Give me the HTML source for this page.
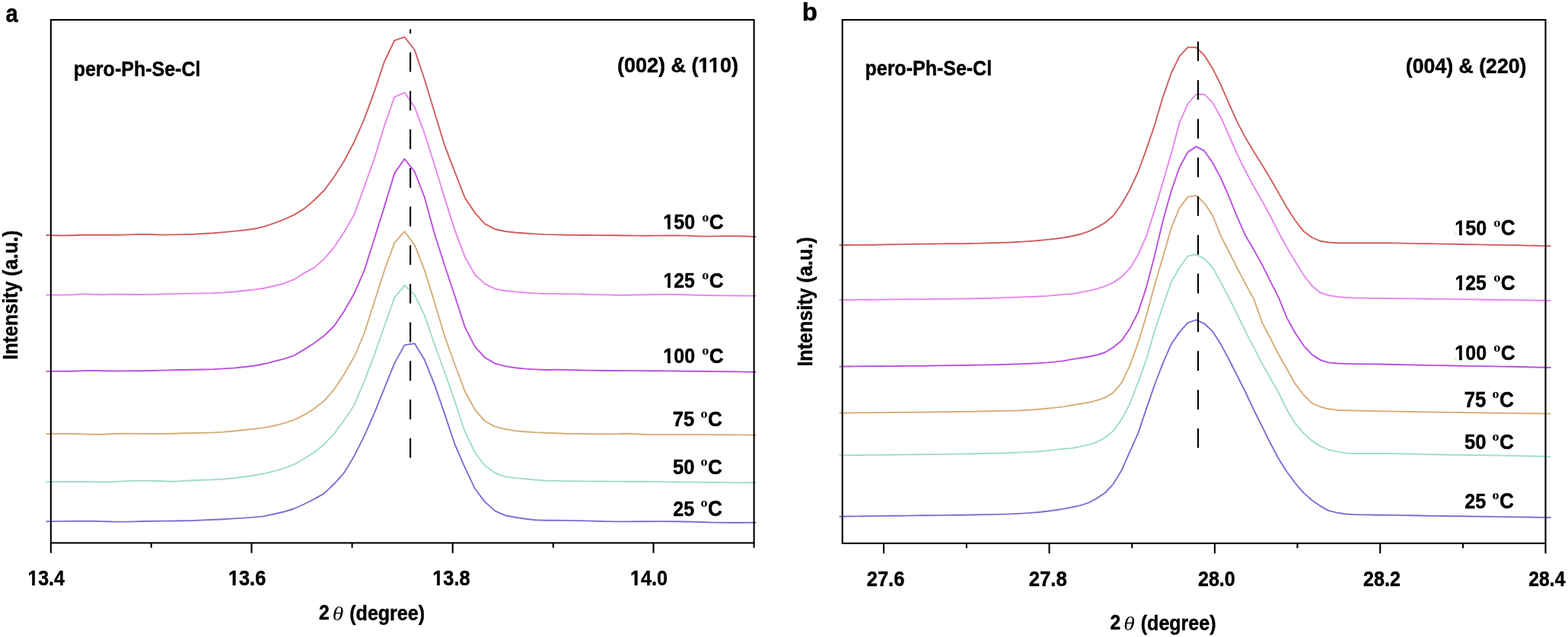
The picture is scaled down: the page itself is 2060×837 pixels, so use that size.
<!DOCTYPE html>
<html><head><meta charset="utf-8"><title>XRD peaks</title>
<style>html,body{margin:0;padding:0;background:#fff;overflow:hidden}svg{display:block}</style></head>
<body>
<svg width="2060" height="837" viewBox="0 0 2060 837">
<rect width="100%" height="100%" fill="#fff"/>
<polyline fill="none" stroke="#d05e5e" stroke-width="1.9" stroke-linejoin="round" points="60.4,309.0 69.2,309.3 82.4,309.5 95.6,309.2 108.8,308.7 122.0,308.7 135.2,308.7 148.4,308.7 161.6,308.6 174.8,308.1 188.0,307.9 201.3,308.2 214.5,308.6 227.7,308.4 240.9,308.1 254.1,307.7 267.3,307.0 280.5,306.2 293.7,305.1 306.9,303.9 320.1,302.5 333.4,300.8 346.6,297.9 359.8,293.4 373.0,288.3 386.2,282.4 399.4,274.4 412.6,263.2 425.8,250.2 439.0,232.2 452.2,211.2 465.5,186.2 478.7,156.1 491.9,120.2 505.1,80.6 518.3,53.1 531.5,48.6 544.7,65.5 557.9,104.8 571.1,148.5 584.3,191.4 597.6,226.1 610.8,260.0 624.0,279.6 637.2,294.4 650.4,301.2 663.6,304.0 676.8,305.5 690.0,306.5 703.2,307.4 716.4,308.1 729.7,308.4 742.9,308.7 756.1,308.9 769.3,309.0 782.5,309.1 795.7,309.2 808.9,309.3 822.1,309.5 835.3,309.6 848.5,309.7 861.8,309.6 875.0,309.5 888.2,309.4 901.4,309.6 914.6,310.2 927.8,310.6 941.0,310.4 954.2,310.1 967.4,310.2 980.6,310.5 993.4,311.1"/>
<polyline fill="none" stroke="#e687ec" stroke-width="1.9" stroke-linejoin="round" points="60.4,387.5 69.2,387.6 82.4,387.6 95.6,387.2 108.8,386.4 122.0,386.7 135.2,387.2 148.4,386.6 161.6,386.7 174.8,387.0 188.0,387.0 201.3,386.9 214.5,386.5 227.7,386.1 240.9,385.9 254.1,385.6 267.3,385.4 280.5,385.1 293.7,384.5 306.9,383.5 320.1,382.0 333.4,380.6 346.6,378.7 359.8,375.8 373.0,372.7 386.2,367.2 399.4,358.9 412.6,351.9 425.8,340.4 439.0,324.8 452.2,304.8 465.5,281.8 478.7,245.1 491.9,208.2 505.1,165.0 518.3,127.3 531.5,121.6 544.7,140.6 557.9,175.7 571.1,217.5 584.3,260.6 597.6,302.7 610.8,337.6 624.0,361.0 637.2,372.9 650.4,379.6 663.6,382.0 676.8,383.4 690.0,384.5 703.2,385.4 716.4,386.0 729.7,386.1 742.9,386.2 756.1,386.4 769.3,386.7 782.5,387.1 795.7,387.4 808.9,387.7 822.1,387.7 835.3,387.5 848.5,387.2 861.8,387.0 875.0,386.9 888.2,387.0 901.4,387.3 914.6,387.7 927.8,388.0 941.0,388.2 954.2,388.4 967.4,388.5 980.6,388.6 993.4,388.7"/>
<polyline fill="none" stroke="#bc4ee0" stroke-width="1.9" stroke-linejoin="round" points="60.4,487.9 69.2,487.9 82.4,487.8 95.6,487.7 108.8,487.1 122.0,486.9 135.2,487.3 148.4,487.5 161.6,487.4 174.8,487.3 188.0,487.2 201.3,487.0 214.5,486.6 227.7,486.3 240.9,486.0 254.1,485.8 267.3,485.5 280.5,485.1 293.7,484.4 306.9,483.6 320.1,482.3 333.4,480.8 346.6,478.3 359.8,474.8 373.0,471.7 386.2,467.3 399.4,459.4 412.6,451.0 425.8,441.2 439.0,428.3 452.2,408.7 465.5,385.3 478.7,355.1 491.9,313.5 505.1,271.1 518.3,227.6 531.5,208.8 544.7,225.5 557.9,259.7 571.1,308.0 584.3,349.3 597.6,389.0 610.8,429.9 624.0,455.6 637.2,470.0 650.4,477.6 663.6,481.1 676.8,483.3 690.0,484.6 703.2,485.4 716.4,486.0 729.7,485.8 742.9,485.9 756.1,486.2 769.3,486.6 782.5,486.8 795.7,487.0 808.9,487.0 822.1,487.1 835.3,487.1 848.5,487.2 861.8,487.3 875.0,487.4 888.2,487.5 901.4,487.7 914.6,487.8 927.8,488.0 941.0,488.1 954.2,488.3 967.4,488.4 980.6,488.6 993.4,488.8"/>
<polyline fill="none" stroke="#d6ad78" stroke-width="1.9" stroke-linejoin="round" points="60.4,570.2 69.2,570.0 82.4,569.9 95.6,570.0 108.8,570.4 122.0,570.7 135.2,570.7 148.4,570.0 161.6,569.8 174.8,569.9 188.0,569.9 201.3,570.0 214.5,570.0 227.7,569.7 240.9,569.3 254.1,569.0 267.3,568.8 280.5,568.4 293.7,567.6 306.9,566.5 320.1,565.0 333.4,563.6 346.6,562.1 359.8,559.5 373.0,556.2 386.2,551.9 399.4,545.3 412.6,537.1 425.8,526.7 439.0,511.8 452.2,491.5 465.5,468.5 478.7,437.5 491.9,396.3 505.1,355.0 518.3,318.9 531.5,304.1 544.7,321.9 557.9,355.4 571.1,398.0 584.3,442.1 597.6,479.3 610.8,514.3 624.0,538.5 637.2,553.5 650.4,560.6 663.6,563.8 676.8,566.1 690.0,567.2 703.2,568.1 716.4,568.7 729.7,569.2 742.9,569.7 756.1,569.9 769.3,570.1 782.5,570.2 795.7,570.3 808.9,570.4 822.1,569.8 835.3,570.2 848.5,571.0 861.8,571.1 875.0,571.1 888.2,571.1 901.4,571.1 914.6,571.1 927.8,571.1 941.0,571.2 954.2,571.3 967.4,571.4 980.6,571.6 993.4,571.8"/>
<polyline fill="none" stroke="#9edccd" stroke-width="1.9" stroke-linejoin="round" points="60.4,633.2 69.2,633.1 82.4,633.0 95.6,633.0 108.8,633.0 122.0,633.1 135.2,633.2 148.4,633.1 161.6,632.4 174.8,631.8 188.0,631.7 201.3,631.7 214.5,632.2 227.7,632.7 240.9,631.9 254.1,631.3 267.3,630.8 280.5,630.3 293.7,629.5 306.9,628.2 320.1,626.5 333.4,624.7 346.6,622.3 359.8,619.1 373.0,615.3 386.2,610.3 399.4,603.0 412.6,594.4 425.8,583.9 439.0,569.9 452.2,552.3 465.5,532.1 478.7,500.5 491.9,466.0 505.1,428.3 518.3,390.9 531.5,375.1 544.7,387.3 557.9,414.6 571.1,453.2 584.3,489.5 597.6,527.3 610.8,567.7 624.0,594.5 637.2,612.1 650.4,621.5 663.6,626.4 676.8,628.1 690.0,629.2 703.2,630.5 716.4,631.5 729.7,631.8 742.9,632.1 756.1,632.2 769.3,632.4 782.5,632.5 795.7,632.5 808.9,632.6 822.1,632.7 835.3,632.7 848.5,632.8 861.8,632.9 875.0,633.1 888.2,633.3 901.4,633.4 914.6,633.6 927.8,633.7 941.0,633.8 954.2,633.9 967.4,634.1 980.6,634.2 993.4,634.3"/>
<polyline fill="none" stroke="#7a70d6" stroke-width="1.9" stroke-linejoin="round" points="60.4,685.3 69.2,685.1 82.4,684.9 95.6,684.7 108.8,684.7 122.0,684.8 135.2,685.1 148.4,685.5 161.6,685.6 174.8,685.4 188.0,685.0 201.3,684.7 214.5,684.6 227.7,684.5 240.9,684.3 254.1,684.0 267.3,683.4 280.5,682.8 293.7,682.2 306.9,681.4 320.1,680.6 333.4,679.6 346.6,678.4 359.8,675.5 373.0,672.5 386.2,668.5 399.4,662.5 412.6,655.8 425.8,648.4 439.0,635.8 452.2,621.1 465.5,598.9 478.7,572.6 491.9,542.6 505.1,509.8 518.3,477.1 531.5,453.4 544.7,451.2 557.9,473.1 571.1,506.1 584.3,544.4 597.6,584.0 610.8,614.3 624.0,642.2 637.2,659.6 650.4,671.4 663.6,677.2 676.8,679.8 690.0,681.7 703.2,683.3 716.4,683.8 729.7,683.8 742.9,683.9 756.1,684.1 769.3,684.4 782.5,684.8 795.7,685.1 808.9,685.4 822.1,685.4 835.3,685.3 848.5,685.2 861.8,685.1 875.0,685.1 888.2,685.2 901.4,685.5 914.6,685.8 927.8,686.2 941.0,686.6 954.2,686.8 967.4,686.8 980.6,686.7 993.4,686.6"/>
<line x1="539.1" y1="38.5" x2="539.1" y2="602.2" stroke="#000" stroke-width="2.1" stroke-dasharray="25.9 24.8" stroke-dashoffset="20.5"/>
<rect x="66.85" y="26.1" width="923.75" height="687.3" fill="none" stroke="#000" stroke-width="2.1"/>
<line x1="66.85" y1="713.4" x2="66.85" y2="726.6999999999999" stroke="#000" stroke-width="2.1"/>
<line x1="330.5" y1="713.4" x2="330.5" y2="726.6999999999999" stroke="#000" stroke-width="2.1"/>
<line x1="594.7" y1="713.4" x2="594.7" y2="726.6999999999999" stroke="#000" stroke-width="2.1"/>
<line x1="858.5" y1="713.4" x2="858.5" y2="726.6999999999999" stroke="#000" stroke-width="2.1"/>
<line x1="198.7" y1="713.4" x2="198.7" y2="719.8" stroke="#000" stroke-width="2.1"/>
<line x1="462.6" y1="713.4" x2="462.6" y2="719.8" stroke="#000" stroke-width="2.1"/>
<line x1="726.8" y1="713.4" x2="726.8" y2="719.8" stroke="#000" stroke-width="2.1"/>
<line x1="990.6" y1="713.4" x2="990.6" y2="719.8" stroke="#000" stroke-width="2.1"/>
<polyline fill="none" stroke="#d05e5e" stroke-width="1.9" stroke-linejoin="round" points="1102.6,322.1 1114.8,322.0 1125.7,321.9 1136.6,321.8 1147.4,321.7 1158.3,321.5 1169.2,321.3 1180.0,321.1 1190.9,320.9 1201.8,320.7 1212.7,320.6 1223.5,320.5 1234.4,320.4 1245.3,320.3 1256.1,320.2 1267.0,320.1 1277.9,319.9 1288.8,319.6 1299.6,319.3 1310.5,319.0 1321.4,318.7 1332.2,318.2 1343.1,317.6 1354.0,316.9 1364.8,316.0 1375.7,314.9 1386.6,313.7 1397.5,312.2 1408.3,310.3 1419.2,307.8 1430.1,304.1 1440.9,298.9 1451.8,292.7 1462.7,283.3 1473.5,268.3 1484.4,249.1 1495.3,225.5 1506.2,195.9 1517.0,164.1 1527.9,127.1 1538.8,96.0 1549.6,73.8 1560.5,62.3 1571.4,62.3 1582.2,72.7 1593.1,89.9 1604.0,111.7 1614.8,136.7 1625.7,160.9 1636.6,181.6 1647.5,199.7 1658.3,216.9 1669.2,235.0 1680.1,254.1 1690.9,273.1 1701.8,290.0 1712.7,303.9 1723.5,312.0 1734.4,316.7 1745.3,318.5 1756.2,319.3 1767.0,319.2 1777.9,319.2 1788.8,319.2 1799.6,319.2 1810.5,319.2 1821.4,319.3 1832.2,319.4 1843.1,319.6 1854.0,319.9 1864.9,320.1 1875.7,320.3 1886.6,320.4 1897.5,320.6 1908.3,320.8 1919.2,321.0 1930.1,321.2 1941.0,321.4 1951.8,321.6 1962.7,321.7 1973.6,321.9 1984.4,322.1 1995.3,322.3 2006.2,322.6 2017.0,322.8 2027.9,323.1 2037.6,323.3"/>
<polyline fill="none" stroke="#e687ec" stroke-width="1.9" stroke-linejoin="round" points="1102.6,394.1 1114.8,394.0 1125.7,393.9 1136.6,393.8 1147.4,393.7 1158.3,393.6 1169.2,393.5 1180.0,393.4 1190.9,393.3 1201.8,393.2 1212.7,393.1 1223.5,393.0 1234.4,392.9 1245.3,392.8 1256.1,392.6 1267.0,392.5 1277.9,392.3 1288.8,392.0 1299.6,391.8 1310.5,391.5 1321.4,391.1 1332.2,390.8 1343.1,390.4 1354.0,390.0 1364.8,389.5 1375.7,388.9 1386.6,387.8 1397.5,386.9 1408.3,386.2 1419.2,384.1 1430.1,382.1 1440.9,379.6 1451.8,376.0 1462.7,371.1 1473.5,363.9 1484.4,352.7 1495.3,334.7 1506.2,309.6 1517.0,275.4 1527.9,239.2 1538.8,201.4 1549.6,161.2 1560.5,136.5 1571.4,124.0 1582.2,123.9 1593.1,134.9 1604.0,154.4 1614.8,178.5 1625.7,203.4 1636.6,225.5 1647.5,245.5 1658.3,264.6 1669.2,284.3 1680.1,306.0 1690.9,325.5 1701.8,343.9 1712.7,361.4 1723.5,375.5 1734.4,384.5 1745.3,388.2 1756.2,389.6 1767.0,391.0 1777.9,391.4 1788.8,391.6 1799.6,391.8 1810.5,391.9 1821.4,392.0 1832.2,392.1 1843.1,392.3 1854.0,392.4 1864.9,392.5 1875.7,392.7 1886.6,392.8 1897.5,392.9 1908.3,393.1 1919.2,393.2 1930.1,393.4 1941.0,393.5 1951.8,393.7 1962.7,393.8 1973.6,394.0 1984.4,394.1 1995.3,394.3 2006.2,394.5 2017.0,394.7 2027.9,394.8 2037.6,395.0"/>
<polyline fill="none" stroke="#bc4ee0" stroke-width="1.9" stroke-linejoin="round" points="1102.6,481.6 1114.8,481.5 1125.7,481.4 1136.6,481.3 1147.4,481.2 1158.3,481.2 1169.2,481.1 1180.0,481.0 1190.9,480.9 1201.8,480.8 1212.7,480.7 1223.5,480.5 1234.4,480.4 1245.3,480.3 1256.1,480.1 1267.0,480.0 1277.9,479.8 1288.8,479.6 1299.6,479.4 1310.5,479.2 1321.4,478.9 1332.2,478.5 1343.1,478.1 1354.0,477.7 1364.8,477.1 1375.7,476.4 1386.6,475.4 1397.5,474.1 1408.3,472.1 1419.2,470.5 1430.1,468.7 1440.9,466.5 1451.8,463.0 1462.7,456.4 1473.5,447.6 1484.4,431.8 1495.3,410.1 1506.2,377.1 1517.0,335.5 1527.9,289.7 1538.8,250.7 1549.6,219.7 1560.5,199.9 1571.4,192.6 1582.2,198.2 1593.1,213.8 1604.0,234.1 1614.8,259.0 1625.7,285.9 1636.6,310.3 1647.5,328.6 1658.3,348.2 1669.2,370.1 1680.1,391.6 1690.9,418.1 1701.8,437.8 1712.7,454.3 1723.5,465.8 1734.4,472.9 1745.3,476.4 1756.2,477.5 1767.0,477.9 1777.9,478.1 1788.8,478.3 1799.6,478.4 1810.5,478.5 1821.4,478.7 1832.2,479.0 1843.1,479.2 1854.0,479.4 1864.9,479.7 1875.7,479.9 1886.6,480.1 1897.5,480.3 1908.3,480.5 1919.2,480.7 1930.1,480.9 1941.0,481.1 1951.8,481.3 1962.7,481.4 1973.6,481.6 1984.4,481.8 1995.3,482.0 2006.2,482.3 2017.0,482.5 2027.9,482.8 2037.6,483.0"/>
<polyline fill="none" stroke="#d6ad78" stroke-width="1.9" stroke-linejoin="round" points="1102.6,542.6 1114.8,542.5 1125.7,542.4 1136.6,542.3 1147.4,542.2 1158.3,542.1 1169.2,542.0 1180.0,541.9 1190.9,541.8 1201.8,541.7 1212.7,541.6 1223.5,541.5 1234.4,541.3 1245.3,541.2 1256.1,541.0 1267.0,540.9 1277.9,540.7 1288.8,540.5 1299.6,540.3 1310.5,540.1 1321.4,539.9 1332.2,539.6 1343.1,539.2 1354.0,538.6 1364.8,537.8 1375.7,536.7 1386.6,535.6 1397.5,534.4 1408.3,532.4 1419.2,530.8 1430.1,528.8 1440.9,526.2 1451.8,522.4 1462.7,515.6 1473.5,503.1 1484.4,480.4 1495.3,450.4 1506.2,414.4 1517.0,374.2 1527.9,337.5 1538.8,299.7 1549.6,273.2 1560.5,258.6 1571.4,257.0 1582.2,266.7 1593.1,283.1 1604.0,310.2 1614.8,331.3 1625.7,352.9 1636.6,373.5 1647.5,393.6 1658.3,424.2 1669.2,444.7 1680.1,466.2 1690.9,485.3 1701.8,504.7 1712.7,519.0 1723.5,529.6 1734.4,534.5 1745.3,537.3 1756.2,538.7 1767.0,539.2 1777.9,539.5 1788.8,539.8 1799.6,540.0 1810.5,540.2 1821.4,540.4 1832.2,540.6 1843.1,540.8 1854.0,541.0 1864.9,541.2 1875.7,541.4 1886.6,541.6 1897.5,541.7 1908.3,541.9 1919.2,542.0 1930.1,542.2 1941.0,542.3 1951.8,542.5 1962.7,542.6 1973.6,542.8 1984.4,542.9 1995.3,543.1 2006.2,543.2 2017.0,543.3 2027.9,543.5 2037.6,543.6"/>
<polyline fill="none" stroke="#9edccd" stroke-width="1.9" stroke-linejoin="round" points="1102.6,598.1 1114.8,598.1 1125.7,598.0 1136.6,597.9 1147.4,597.9 1158.3,597.8 1169.2,597.7 1180.0,597.5 1190.9,597.4 1201.8,597.2 1212.7,597.1 1223.5,597.0 1234.4,596.9 1245.3,596.7 1256.1,596.6 1267.0,596.5 1277.9,596.3 1288.8,596.0 1299.6,595.8 1310.5,595.5 1321.4,595.2 1332.2,594.8 1343.1,594.4 1354.0,593.9 1364.8,593.2 1375.7,592.3 1386.6,590.9 1397.5,589.7 1408.3,589.0 1419.2,586.9 1430.1,584.3 1440.9,580.8 1451.8,575.2 1462.7,566.0 1473.5,551.3 1484.4,530.5 1495.3,502.1 1506.2,472.0 1517.0,434.9 1527.9,401.5 1538.8,370.5 1549.6,351.7 1560.5,336.5 1571.4,334.3 1582.2,339.9 1593.1,351.4 1604.0,371.1 1614.8,391.8 1625.7,413.5 1636.6,436.2 1647.5,457.1 1658.3,478.2 1669.2,497.3 1680.1,516.5 1690.9,538.5 1701.8,556.7 1712.7,569.3 1723.5,579.1 1734.4,586.1 1745.3,591.0 1756.2,593.4 1767.0,595.1 1777.9,596.0 1788.8,596.0 1799.6,596.0 1810.5,596.0 1821.4,596.0 1832.2,596.1 1843.1,596.2 1854.0,596.5 1864.9,596.8 1875.7,597.1 1886.6,597.3 1897.5,597.5 1908.3,597.7 1919.2,597.8 1930.1,598.0 1941.0,598.1 1951.8,598.2 1962.7,598.4 1973.6,598.6 1984.4,598.8 1995.3,599.0 2006.2,599.2 2017.0,599.5 2027.9,599.8 2037.6,600.0"/>
<polyline fill="none" stroke="#7a70d6" stroke-width="1.9" stroke-linejoin="round" points="1102.6,678.7 1114.8,678.5 1125.7,678.4 1136.6,678.2 1147.4,678.1 1158.3,677.9 1169.2,677.8 1180.0,677.7 1190.9,677.6 1201.8,677.4 1212.7,677.3 1223.5,677.2 1234.4,677.1 1245.3,676.9 1256.1,676.8 1267.0,676.7 1277.9,676.5 1288.8,676.3 1299.6,676.1 1310.5,675.9 1321.4,675.6 1332.2,675.1 1343.1,674.6 1354.0,673.9 1364.8,673.0 1375.7,671.7 1386.6,670.3 1397.5,668.6 1408.3,666.5 1419.2,664.1 1430.1,660.7 1440.9,654.9 1451.8,647.5 1462.7,635.8 1473.5,618.1 1484.4,593.3 1495.3,569.1 1506.2,536.6 1517.0,505.5 1527.9,476.8 1538.8,452.2 1549.6,436.4 1560.5,424.2 1571.4,420.4 1582.2,425.2 1593.1,435.4 1604.0,452.6 1614.8,472.8 1625.7,494.3 1636.6,516.0 1647.5,539.2 1658.3,560.7 1669.2,582.8 1680.1,603.2 1690.9,620.2 1701.8,635.1 1712.7,647.6 1723.5,657.3 1734.4,664.8 1745.3,670.9 1756.2,673.6 1767.0,675.3 1777.9,676.1 1788.8,676.4 1799.6,676.5 1810.5,676.7 1821.4,676.8 1832.2,676.9 1843.1,677.1 1854.0,677.3 1864.9,677.5 1875.7,677.7 1886.6,677.9 1897.5,678.0 1908.3,678.2 1919.2,678.3 1930.1,678.5 1941.0,678.6 1951.8,678.8 1962.7,678.9 1973.6,679.1 1984.4,679.2 1995.3,679.4 2006.2,679.5 2017.0,679.7 2027.9,679.9 2037.6,680.0"/>
<line x1="1574.0" y1="54.4" x2="1574.0" y2="588.6" stroke="#000" stroke-width="2.1" stroke-dasharray="25.8 25.07" stroke-dashoffset="0"/>
<rect x="1106.7" y="26.1" width="923.8" height="687.8" fill="none" stroke="#000" stroke-width="2.1"/>
<line x1="1161.0" y1="713.9" x2="1161.0" y2="727.1999999999999" stroke="#000" stroke-width="2.1"/>
<line x1="1378.5" y1="713.9" x2="1378.5" y2="727.1999999999999" stroke="#000" stroke-width="2.1"/>
<line x1="1595.9" y1="713.9" x2="1595.9" y2="727.1999999999999" stroke="#000" stroke-width="2.1"/>
<line x1="1813.2" y1="713.9" x2="1813.2" y2="727.1999999999999" stroke="#000" stroke-width="2.1"/>
<line x1="2030.5" y1="713.9" x2="2030.5" y2="727.1999999999999" stroke="#000" stroke-width="2.1"/>
<line x1="1269.8" y1="713.9" x2="1269.8" y2="720.3" stroke="#000" stroke-width="2.1"/>
<line x1="1487.2" y1="713.9" x2="1487.2" y2="720.3" stroke="#000" stroke-width="2.1"/>
<line x1="1704.5" y1="713.9" x2="1704.5" y2="720.3" stroke="#000" stroke-width="2.1"/>
<line x1="1922.0" y1="713.9" x2="1922.0" y2="720.3" stroke="#000" stroke-width="2.1"/>
<g fill="#000"><text transform="translate(7.39 28.88) scale(0.8801 1)" style="font-family:'Liberation Sans', Arial, sans-serif;font-weight:bold;font-style:normal;font-size:33.02px;stroke:#000;stroke-width:0.45px">a</text>
<text transform="translate(1053.75 27.19) scale(1.0079 1)" style="font-family:'Liberation Sans', Arial, sans-serif;font-weight:bold;font-style:normal;font-size:32.70px;stroke:#000;stroke-width:0.45px">b</text>
<text transform="translate(96.68 99.70) scale(0.8955 1)" style="font-family:'Liberation Sans', Arial, sans-serif;font-weight:bold;font-style:normal;font-size:27.94px;stroke:#000;stroke-width:0.45px">pero-Ph-Se-Cl</text>
<text transform="translate(1136.48 99.30) scale(0.8950 1)" style="font-family:'Liberation Sans', Arial, sans-serif;font-weight:bold;font-style:normal;font-size:27.94px;stroke:#000;stroke-width:0.45px">pero-Ph-Se-Cl</text>
<text transform="translate(810.95 94.51) scale(0.9928 1)" style="font-family:'Liberation Sans', Arial, sans-serif;font-weight:bold;font-style:normal;font-size:27.21px;stroke:#000;stroke-width:0.45px">(002) &amp; (110)</text>
<text transform="translate(1846.87 96.41) scale(0.9802 1)" style="font-family:'Liberation Sans', Arial, sans-serif;font-weight:bold;font-style:normal;font-size:27.21px;stroke:#000;stroke-width:0.45px">(004) &amp; (220)</text>
<text transform="translate(36.38 769.35) scale(0.9231 1)" style="font-family:'Liberation Sans', Arial, sans-serif;font-weight:bold;font-style:normal;font-size:27.00px;stroke:#000;stroke-width:0.45px">13.4</text>
<text transform="translate(299.96 769.35) scale(0.9378 1)" style="font-family:'Liberation Sans', Arial, sans-serif;font-weight:bold;font-style:normal;font-size:27.00px;stroke:#000;stroke-width:0.45px">13.6</text>
<text transform="translate(568.25 769.35) scale(0.9400 1)" style="font-family:'Liberation Sans', Arial, sans-serif;font-weight:bold;font-style:normal;font-size:27.00px;stroke:#000;stroke-width:0.45px">13.8</text>
<text transform="translate(827.96 769.35) scale(0.9356 1)" style="font-family:'Liberation Sans', Arial, sans-serif;font-weight:bold;font-style:normal;font-size:27.00px;stroke:#000;stroke-width:0.45px">14.0</text>
<text transform="translate(1138.70 769.75) scale(0.9496 1)" style="font-family:'Liberation Sans', Arial, sans-serif;font-weight:bold;font-style:normal;font-size:26.86px;stroke:#000;stroke-width:0.45px">27.6</text>
<text transform="translate(1351.79 769.75) scale(0.9558 1)" style="font-family:'Liberation Sans', Arial, sans-serif;font-weight:bold;font-style:normal;font-size:26.86px;stroke:#000;stroke-width:0.45px">27.8</text>
<text transform="translate(1573.91 769.75) scale(0.9356 1)" style="font-family:'Liberation Sans', Arial, sans-serif;font-weight:bold;font-style:normal;font-size:26.86px;stroke:#000;stroke-width:0.45px">28.0</text>
<text transform="translate(1791.11 769.75) scale(0.9356 1)" style="font-family:'Liberation Sans', Arial, sans-serif;font-weight:bold;font-style:normal;font-size:26.86px;stroke:#000;stroke-width:0.45px">28.2</text>
<text transform="translate(2008.33 769.75) scale(0.9194 1)" style="font-family:'Liberation Sans', Arial, sans-serif;font-weight:bold;font-style:normal;font-size:26.86px;stroke:#000;stroke-width:0.45px">28.4</text>
<text transform="translate(871.37 301.44) scale(0.8939 1)" style="font-family:'Liberation Sans', Arial, sans-serif;font-weight:bold;font-style:normal;font-size:27.98px;stroke:#000;stroke-width:0.45px">150</text>
<text transform="translate(922.17 290.57) scale(1.1304 1)" style="font-family:'Liberation Serif', 'Times New Roman', serif;font-weight:bold;font-style:normal;font-size:16.20px">o</text>
<text transform="translate(931.78 301.43) scale(0.9235 1)" style="font-family:'Liberation Sans', Arial, sans-serif;font-weight:bold;font-style:normal;font-size:28.41px;stroke:#000;stroke-width:0.45px">C</text>
<text transform="translate(871.39 377.64) scale(0.8856 1)" style="font-family:'Liberation Sans', Arial, sans-serif;font-weight:bold;font-style:normal;font-size:27.98px;stroke:#000;stroke-width:0.45px">125</text>
<text transform="translate(922.17 366.77) scale(1.1304 1)" style="font-family:'Liberation Serif', 'Times New Roman', serif;font-weight:bold;font-style:normal;font-size:16.20px">o</text>
<text transform="translate(931.78 377.63) scale(0.9235 1)" style="font-family:'Liberation Sans', Arial, sans-serif;font-weight:bold;font-style:normal;font-size:28.41px;stroke:#000;stroke-width:0.45px">C</text>
<text transform="translate(871.37 476.54) scale(0.8895 1)" style="font-family:'Liberation Sans', Arial, sans-serif;font-weight:bold;font-style:normal;font-size:28.13px;stroke:#000;stroke-width:0.45px">100</text>
<text transform="translate(922.17 465.57) scale(1.1304 1)" style="font-family:'Liberation Serif', 'Times New Roman', serif;font-weight:bold;font-style:normal;font-size:16.20px">o</text>
<text transform="translate(931.78 476.53) scale(0.9189 1)" style="font-family:'Liberation Sans', Arial, sans-serif;font-weight:bold;font-style:normal;font-size:28.55px;stroke:#000;stroke-width:0.45px">C</text>
<text transform="translate(1911.37 308.84) scale(0.8851 1)" style="font-family:'Liberation Sans', Arial, sans-serif;font-weight:bold;font-style:normal;font-size:28.27px;stroke:#000;stroke-width:0.45px">150</text>
<text transform="translate(1962.17 297.77) scale(1.1304 1)" style="font-family:'Liberation Serif', 'Times New Roman', serif;font-weight:bold;font-style:normal;font-size:16.20px">o</text>
<text transform="translate(1971.78 308.83) scale(0.9144 1)" style="font-family:'Liberation Sans', Arial, sans-serif;font-weight:bold;font-style:normal;font-size:28.69px;stroke:#000;stroke-width:0.45px">C</text>
<text transform="translate(1911.39 380.84) scale(0.8945 1)" style="font-family:'Liberation Sans', Arial, sans-serif;font-weight:bold;font-style:normal;font-size:27.70px;stroke:#000;stroke-width:0.45px">125</text>
<text transform="translate(1962.17 370.17) scale(1.1304 1)" style="font-family:'Liberation Serif', 'Times New Roman', serif;font-weight:bold;font-style:normal;font-size:16.20px">o</text>
<text transform="translate(1971.78 380.84) scale(0.9327 1)" style="font-family:'Liberation Sans', Arial, sans-serif;font-weight:bold;font-style:normal;font-size:28.13px;stroke:#000;stroke-width:0.45px">C</text>
<text transform="translate(1911.37 473.14) scale(0.8895 1)" style="font-family:'Liberation Sans', Arial, sans-serif;font-weight:bold;font-style:normal;font-size:28.13px;stroke:#000;stroke-width:0.45px">100</text>
<text transform="translate(1962.17 462.17) scale(1.1304 1)" style="font-family:'Liberation Serif', 'Times New Roman', serif;font-weight:bold;font-style:normal;font-size:16.20px">o</text>
<text transform="translate(1971.78 473.13) scale(0.9189 1)" style="font-family:'Liberation Sans', Arial, sans-serif;font-weight:bold;font-style:normal;font-size:28.55px;stroke:#000;stroke-width:0.45px">C</text>
<text transform="translate(883.71 560.04) scale(0.9162 1)" style="font-family:'Liberation Sans', Arial, sans-serif;font-weight:bold;font-style:normal;font-size:28.00px;stroke:#000;stroke-width:0.45px">75</text>
<text transform="translate(920.48 549.17) scale(1.1159 1)" style="font-family:'Liberation Serif', 'Times New Roman', serif;font-weight:bold;font-style:normal;font-size:16.20px">o</text>
<text transform="translate(929.98 560.04) scale(0.9374 1)" style="font-family:'Liberation Sans', Arial, sans-serif;font-weight:bold;font-style:normal;font-size:27.98px;stroke:#000;stroke-width:0.45px">C</text>
<text transform="translate(884.09 622.84) scale(0.9261 1)" style="font-family:'Liberation Sans', Arial, sans-serif;font-weight:bold;font-style:normal;font-size:27.70px;stroke:#000;stroke-width:0.45px">50</text>
<text transform="translate(920.48 611.87) scale(1.1159 1)" style="font-family:'Liberation Serif', 'Times New Roman', serif;font-weight:bold;font-style:normal;font-size:16.20px">o</text>
<text transform="translate(929.98 622.84) scale(0.9327 1)" style="font-family:'Liberation Sans', Arial, sans-serif;font-weight:bold;font-style:normal;font-size:28.13px;stroke:#000;stroke-width:0.45px">C</text>
<text transform="translate(884.31 677.84) scale(0.8880 1)" style="font-family:'Liberation Sans', Arial, sans-serif;font-weight:bold;font-style:normal;font-size:28.27px;stroke:#000;stroke-width:0.45px">25</text>
<text transform="translate(920.48 666.47) scale(1.1159 1)" style="font-family:'Liberation Serif', 'Times New Roman', serif;font-weight:bold;font-style:normal;font-size:16.20px">o</text>
<text transform="translate(929.98 677.83) scale(0.9144 1)" style="font-family:'Liberation Sans', Arial, sans-serif;font-weight:bold;font-style:normal;font-size:28.69px;stroke:#000;stroke-width:0.45px">C</text>
<text transform="translate(1923.71 534.53) scale(0.8935 1)" style="font-family:'Liberation Sans', Arial, sans-serif;font-weight:bold;font-style:normal;font-size:28.71px;stroke:#000;stroke-width:0.45px">75</text>
<text transform="translate(1960.48 523.17) scale(1.1159 1)" style="font-family:'Liberation Serif', 'Times New Roman', serif;font-weight:bold;font-style:normal;font-size:16.20px">o</text>
<text transform="translate(1969.98 534.53) scale(0.9144 1)" style="font-family:'Liberation Sans', Arial, sans-serif;font-weight:bold;font-style:normal;font-size:28.69px;stroke:#000;stroke-width:0.45px">C</text>
<text transform="translate(1924.09 590.04) scale(0.9261 1)" style="font-family:'Liberation Sans', Arial, sans-serif;font-weight:bold;font-style:normal;font-size:27.70px;stroke:#000;stroke-width:0.45px">50</text>
<text transform="translate(1960.48 579.07) scale(1.1159 1)" style="font-family:'Liberation Serif', 'Times New Roman', serif;font-weight:bold;font-style:normal;font-size:16.20px">o</text>
<text transform="translate(1969.98 590.04) scale(0.9327 1)" style="font-family:'Liberation Sans', Arial, sans-serif;font-weight:bold;font-style:normal;font-size:28.13px;stroke:#000;stroke-width:0.45px">C</text>
<text transform="translate(1924.31 667.84) scale(0.8880 1)" style="font-family:'Liberation Sans', Arial, sans-serif;font-weight:bold;font-style:normal;font-size:28.27px;stroke:#000;stroke-width:0.45px">25</text>
<text transform="translate(1960.48 656.47) scale(1.1159 1)" style="font-family:'Liberation Serif', 'Times New Roman', serif;font-weight:bold;font-style:normal;font-size:16.20px">o</text>
<text transform="translate(1969.98 667.83) scale(0.9144 1)" style="font-family:'Liberation Sans', Arial, sans-serif;font-weight:bold;font-style:normal;font-size:28.69px;stroke:#000;stroke-width:0.45px">C</text>
<text transform="translate(23.25 472.72) rotate(-90) scale(0.8957 1)" style="font-family:'Liberation Sans', Arial, sans-serif;font-weight:bold;font-style:normal;font-size:28.02px;stroke:#000;stroke-width:0.45px">Intensity (a.u.)</text>
<text transform="translate(1066.75 481.62) rotate(-90) scale(0.9056 1)" style="font-family:'Liberation Sans', Arial, sans-serif;font-weight:bold;font-style:normal;font-size:27.73px;stroke:#000;stroke-width:0.45px">Intensity (a.u.)</text>
<text transform="translate(419.03 814.35) scale(0.9154 1)" style="font-family:'Liberation Sans', Arial, sans-serif;font-weight:bold;font-style:normal;font-size:27.00px;stroke:#000;stroke-width:0.45px">2</text>
<text transform="translate(436.72 814.56) scale(1.1389 1)" style="font-family:'Liberation Serif', 'Times New Roman', serif;font-weight:normal;font-style:italic;font-size:26.02px">θ</text>
<text transform="translate(459.24 814.73) scale(0.9241 1)" style="font-family:'Liberation Sans', Arial, sans-serif;font-weight:bold;font-style:normal;font-size:27.11px;stroke:#000;stroke-width:0.45px">(degree)</text>
<text transform="translate(1458.53 827.45) scale(0.9154 1)" style="font-family:'Liberation Sans', Arial, sans-serif;font-weight:bold;font-style:normal;font-size:27.00px;stroke:#000;stroke-width:0.45px">2</text>
<text transform="translate(1476.22 827.66) scale(1.1389 1)" style="font-family:'Liberation Serif', 'Times New Roman', serif;font-weight:normal;font-style:italic;font-size:26.02px">θ</text>
<text transform="translate(1498.74 827.83) scale(0.9241 1)" style="font-family:'Liberation Sans', Arial, sans-serif;font-weight:bold;font-style:normal;font-size:27.11px;stroke:#000;stroke-width:0.45px">(degree)</text></g>
<g fill="#fff"><g transform="translate(810.95 94.51) scale(0.9928 1)"><rect x="108.35" y="-3.78" width="5.09" height="5.38"/><rect x="117.67" y="-3.78" width="4.74" height="5.38"/></g><g transform="translate(810.95 94.51) scale(0.9928 1)"><rect x="121.98" y="-3.78" width="5.09" height="5.38"/><rect x="131.30" y="-3.78" width="4.74" height="5.38"/></g><g transform="translate(36.38 769.35) scale(0.9231 1)"><rect x="1.00" y="-3.76" width="5.05" height="5.36"/><rect x="10.26" y="-3.76" width="4.71" height="5.36"/></g><g transform="translate(299.96 769.35) scale(0.9378 1)"><rect x="1.00" y="-3.76" width="5.05" height="5.36"/><rect x="10.26" y="-3.76" width="4.71" height="5.36"/></g><g transform="translate(568.25 769.35) scale(0.9400 1)"><rect x="1.00" y="-3.76" width="5.05" height="5.36"/><rect x="10.26" y="-3.76" width="4.71" height="5.36"/></g><g transform="translate(827.96 769.35) scale(0.9356 1)"><rect x="1.00" y="-3.76" width="5.05" height="5.36"/><rect x="10.26" y="-3.76" width="4.71" height="5.36"/></g><g transform="translate(871.37 301.44) scale(0.8939 1)"><rect x="1.06" y="-3.86" width="5.22" height="5.46"/><rect x="10.62" y="-3.86" width="4.86" height="5.46"/></g><g transform="translate(871.39 377.64) scale(0.8856 1)"><rect x="1.06" y="-3.86" width="5.22" height="5.46"/><rect x="10.62" y="-3.86" width="4.86" height="5.46"/></g><g transform="translate(871.37 476.54) scale(0.8895 1)"><rect x="1.07" y="-3.87" width="5.24" height="5.47"/><rect x="10.68" y="-3.87" width="4.89" height="5.47"/></g><g transform="translate(1911.37 308.84) scale(0.8851 1)"><rect x="1.08" y="-3.88" width="5.27" height="5.48"/><rect x="10.73" y="-3.88" width="4.91" height="5.48"/></g><g transform="translate(1911.39 380.84) scale(0.8945 1)"><rect x="1.04" y="-3.83" width="5.17" height="5.43"/><rect x="10.52" y="-3.83" width="4.82" height="5.43"/></g><g transform="translate(1911.37 473.14) scale(0.8895 1)"><rect x="1.07" y="-3.87" width="5.24" height="5.47"/><rect x="10.68" y="-3.87" width="4.89" height="5.47"/></g></g>
</svg>
</body></html>
